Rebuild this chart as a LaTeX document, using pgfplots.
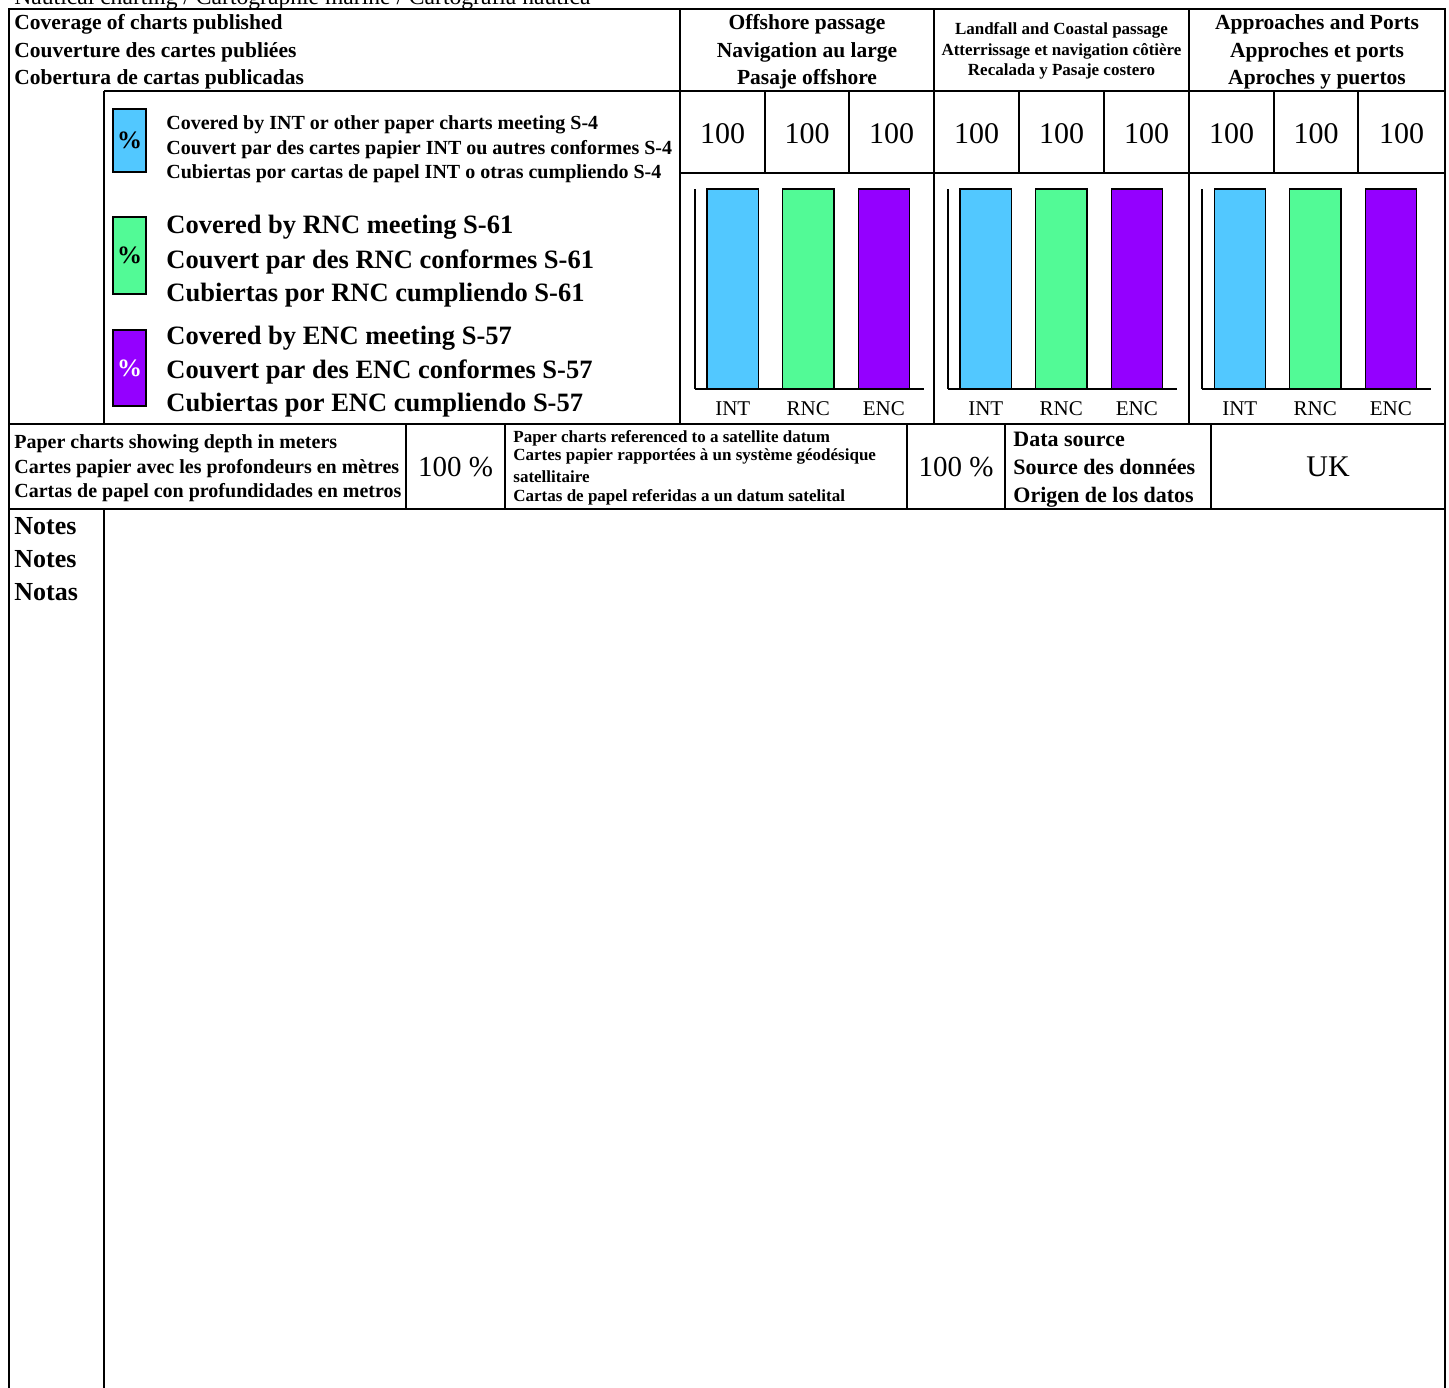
\documentclass[border=0pt]{standalone}
\usepackage{pgfplots}
\pgfplotsset{compat=1.18}
\usepackage{fontspec}
\setmainfont{Liberation Serif}
\definecolor{cint}{HTML}{52C8FF}
\definecolor{crnc}{HTML}{52FA96}
\definecolor{cenc}{HTML}{9400FF}
\tikzset{
  tb/.style={inner sep=0pt, font=\fontsize{#1}{#1}\selectfont\bfseries},
  tr/.style={inner sep=0pt, font=\fontsize{#1}{#1}\selectfont},
}
\pgfplotsset{grp/.style={
  at={(#1)}, anchor=south west, width=114.5pt, height=100pt, scale only axis,
  xmin=-0.5, xmax=2.533, ymin=0, ymax=100,
  axis x line=bottom, axis y line=left,
  axis line style={-, line width=0.75pt, black},
  ytick=\empty, xtick={0,1,2}, xticklabels={INT,RNC,ENC},
  major tick length=0pt,
  xticklabel style={anchor=base, yshift=-13pt, font=\fontsize{10.5}{10.5}\selectfont},
  clip=false,
  every axis plot/.append style={ybar, bar width=0.68, bar shift=0pt, draw=black, line width=0.6pt},
}}
\begin{document}
\begin{tikzpicture}[x=0.5pt,y=-0.5pt]
\useasboundingbox (0,0) rectangle (1449,1387);
% top caption (cut)
\node[tr=11.8, anchor=base west] at (14,4) {Nautical charting / Cartographie marine / Cartografía náutica};
% frame lines
\begin{scope}[line width=1pt]
\draw (9,1400) -- (9,9) -- (1445,9) -- (1445,1400);
\draw (104,91) -- (1445,91);
\draw (104,91) -- (104,424);
\draw (680,9) -- (680,424);
\draw (934,9) -- (934,424);
\draw (1189,9) -- (1189,424);
\draw (680,173) -- (1445,173);
\draw (9,424) -- (1445,424);
\draw (9,509) -- (1445,509);
\draw (104,509) -- (104,1400);
\end{scope}
\begin{scope}[line width=0.8pt]
\foreach \xx in {765,849,1019,1104,1274,1358} \draw (\xx,91) -- (\xx,173);
\foreach \xx in {406,505,907,1005,1211} \draw (\xx,424) -- (\xx,509);
\end{scope}
% header
\node[tb=10.75, anchor=base west] at (14,29) {Coverage of charts published};
\node[tb=10.75, anchor=base west] at (14,57) {Couverture des cartes publiées};
\node[tb=10.75, anchor=base west] at (14,84) {Cobertura de cartas publicadas};
\node[tb=10.75, anchor=base] at (807,29) {Offshore passage};
\node[tb=10.75, anchor=base] at (807,57) {Navigation au large};
\node[tb=10.75, anchor=base] at (807,84) {Pasaje offshore};
\node[tb=8.5, anchor=base] at (1061.5,34) {Landfall and Coastal passage};
\node[tb=8.5, anchor=base] at (1061.5,55) {Atterrissage et navigation côtière};
\node[tb=8.5, anchor=base] at (1061.5,75) {Recalada y Pasaje costero};
\node[tb=10.75, anchor=base] at (1317,29) {Approaches and Ports};
\node[tb=10.75, anchor=base] at (1317,57) {Approches et ports};
\node[tb=10.75, anchor=base] at (1317,84) {Aproches y puertos};
% values
\foreach \xx in {722.5,807,891.5,976.5,1061.5,1146.5,1231.5,1316,1401.5}
  \node[tr=15, anchor=base] at (\xx,143) {100};
% legend
\draw[line width=0.8pt, fill=cint] (113,109) rectangle (146,172);
\draw[line width=0.8pt, fill=crnc] (113,217) rectangle (146,294);
\draw[line width=0.8pt, fill=cenc] (113,330) rectangle (146,406);
\node[tb=12.5] at (129.5,140.5) {\%};
\node[tb=12.5] at (129.5,255.5) {\%};
\node[tb=12.5, text=white] at (129.5,368) {\%};
\node[tb=10, anchor=base west] at (166,129) {Covered by INT or other paper charts meeting S-4};
\node[tb=10, anchor=base west] at (166,154) {Couvert par des cartes papier INT ou autres conformes S-4};
\node[tb=10, anchor=base west] at (166,178) {Cubiertas por cartas de papel INT o otras cumpliendo S-4};
\node[tb=13.25, anchor=base west] at (166,233) {Covered by RNC meeting S-61};
\node[tb=13.25, anchor=base west] at (166,268) {Couvert par des RNC conformes S-61};
\node[tb=13.25, anchor=base west] at (166,301) {Cubiertas por RNC cumpliendo S-61};
\node[tb=13.25, anchor=base west] at (166,344) {Covered by ENC meeting S-57};
\node[tb=13.25, anchor=base west] at (166,378) {Couvert par des ENC conformes S-57};
\node[tb=13.25, anchor=base west] at (166,411) {Cubiertas por ENC cumpliendo S-57};
% bottom row
\node[tb=10, anchor=base west] at (14,448) {Paper charts showing depth in meters};
\node[tb=10, anchor=base west] at (14,473) {Cartes papier avec les profondeurs en mètres};
\node[tb=10, anchor=base west] at (14,497) {Cartas de papel con profundidades en metros};
\node[tr=14.5, anchor=base] at (455.5,476) {100 \%};
\node[tb=8.5, anchor=base west] at (513,442) {Paper charts referenced to a satellite datum};
\node[tb=8.5, anchor=base west] at (513,460) {Cartes papier rapportées à un système géodésique};
\node[tb=8.5, anchor=base west] at (513,482) {satellitaire};
\node[tb=8.5, anchor=base west] at (513,501) {Cartas de papel referidas a un datum satelital};
\node[tr=14.5, anchor=base] at (956,476) {100 \%};
\node[tb=11, anchor=base west] at (1013,446) {Data source};
\node[tb=11, anchor=base west] at (1013,474) {Source des données};
\node[tb=11, anchor=base west] at (1013,502) {Origen de los datos};
\node[tr=15, anchor=base] at (1328,476) {UK};
\node[tb=13, anchor=base west] at (14,534) {Notes};
\node[tb=13, anchor=base west] at (14,567) {Notes};
\node[tb=13, anchor=base west] at (14,600) {Notas};
% bar charts
\coordinate (g1) at (695,389);
\coordinate (g2) at (948,389);
\coordinate (g3) at (1202,389);
\begin{axis}[grp=g1]
\addplot[fill=cint] coordinates {(0,100)};
\addplot[fill=crnc] coordinates {(1,100)};
\addplot[fill=cenc] coordinates {(2,100)};
\end{axis}
\begin{axis}[grp=g2]
\addplot[fill=cint] coordinates {(0,100)};
\addplot[fill=crnc] coordinates {(1,100)};
\addplot[fill=cenc] coordinates {(2,100)};
\end{axis}
\begin{axis}[grp=g3]
\addplot[fill=cint] coordinates {(0,100)};
\addplot[fill=crnc] coordinates {(1,100)};
\addplot[fill=cenc] coordinates {(2,100)};
\end{axis}
\end{tikzpicture}
\end{document}
